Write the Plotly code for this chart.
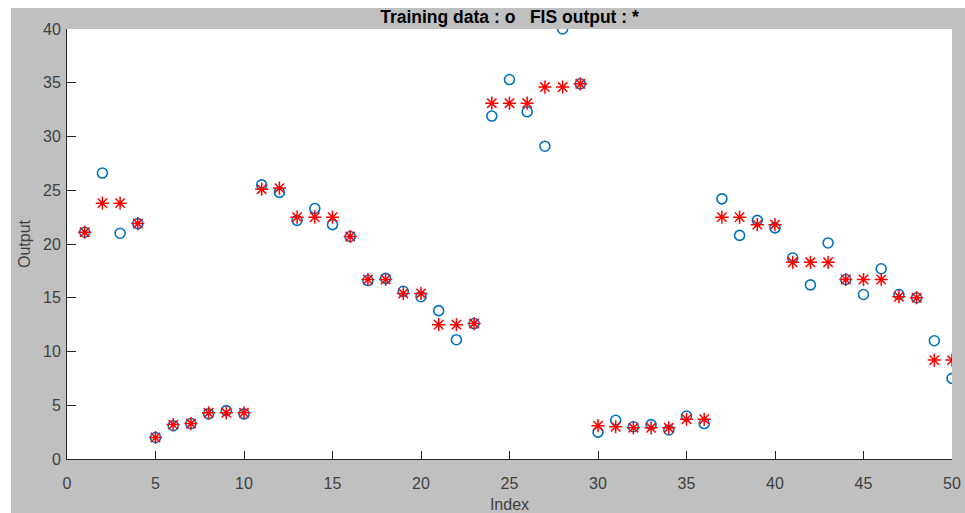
import plotly.graph_objects as go

# Sample index and values
index = list(range(1, 51))

training_data = [
    21.1, 26.6, 21.0, 21.9, 2.0, 3.1, 3.3, 4.2, 4.5, 4.2,
    25.5, 24.8, 22.2, 23.3, 21.8, 20.7, 16.6, 16.8, 15.6, 15.1,
    13.8, 11.1, 12.6, 31.9, 35.3, 32.3, 29.1, 40.0, 34.9, 2.5,
    3.6, 3.0, 3.2, 2.7, 4.0, 3.3, 24.2, 20.8, 22.2, 21.5,
    18.7, 16.2, 20.1, 16.7, 15.3, 17.7, 15.3, 15.0, 11.0, 7.5,
]

fis_output = [
    21.1, 23.8, 23.8, 21.9, 2.0, 3.2, 3.3, 4.3, 4.3, 4.3,
    25.1, 25.2, 22.5, 22.5, 22.5, 20.7, 16.7, 16.7, 15.4, 15.4,
    12.5, 12.5, 12.6, 33.1, 33.1, 33.1, 34.6, 34.6, 34.9, 3.1,
    3.0, 2.9, 2.9, 2.9, 3.7, 3.7, 22.5, 22.5, 21.8, 21.8,
    18.3, 18.3, 18.3, 16.7, 16.7, 16.7, 15.1, 15.0, 9.2, 9.2,
]

x_ticks = [0, 5, 10, 15, 20, 25, 30, 35, 40, 45, 50]
y_ticks = [0, 5, 10, 15, 20, 25, 30, 35, 40]

W, H = 965, 513
ML, MR, MT, MB = 67, 13, 29, 54
PW, PH = W - ML - MR, H - MT - MB

FONT = "Liberation Sans, Arial, Helvetica, sans-serif"
AXIS_COLOR = "#262626"
LABEL_COLOR = "#404040"
GREY = "#c0c0c0"

fig = go.Figure()

fig.add_trace(go.Scatter(
    x=index, y=training_data, mode="markers", name="Training data",
    marker=dict(symbol="circle-open", size=10, color="#0072BD",
                line=dict(width=1.6, color="#0072BD")),
))

fig.add_trace(go.Scatter(
    x=index, y=fis_output, mode="markers", name="FIS output",
    marker=dict(symbol="asterisk-open", size=11, color="#FF0000",
                line=dict(width=1.5, color="#FF0000")),
))

# thin white border at the left and top edges of the grey window,
# drawn as empty annotation boxes with a white background
for left, top, w, h in [(0, 0, 11, H), (0, 0, W, 8)]:
    fig.add_annotation(
        xref="paper", yref="paper",
        x=(left - ML) / PW, y=(H - MB - top) / PH,
        xanchor="left", yanchor="top",
        text="", width=w, height=h, bgcolor="white",
        borderwidth=0, borderpad=0, showarrow=False,
    )

axis_common = dict(
    showgrid=False, zeroline=False, showline=True, linecolor=AXIS_COLOR,
    linewidth=1, ticks="inside", tickcolor=AXIS_COLOR, tickwidth=1,
    tickfont=dict(family=FONT, size=16, color=LABEL_COLOR),
    mirror=False, automargin=False,
)

fig.update_layout(
    width=W, height=H,
    margin=dict(l=ML, r=MR, t=MT, b=MB, pad=0),
    paper_bgcolor=GREY, plot_bgcolor="white",
    showlegend=False,
    title=dict(
        text="<b>Training data : o\u00a0\u00a0\u00a0FIS output : *</b>",
        x=0.5, xref="paper", xanchor="center",
        y=1 - 17 / H, yanchor="middle",
        font=dict(family=FONT, size=17.5, color="#000000"),
    ),
    xaxis=dict(
        **axis_common, range=[0, 50], tickvals=x_ticks, ticklen=8,
        ticklabelstandoff=10,
        title=dict(text="Index", standoff=10,
                   font=dict(family=FONT, size=16, color=LABEL_COLOR)),
    ),
    yaxis=dict(
        **axis_common, range=[0, 40], tickvals=y_ticks, ticklen=9,
        ticklabelstandoff=2,
        title=dict(text="Output", standoff=8,
                   font=dict(family=FONT, size=16, color=LABEL_COLOR)),
    ),
)

fig.write_html("out.html")
